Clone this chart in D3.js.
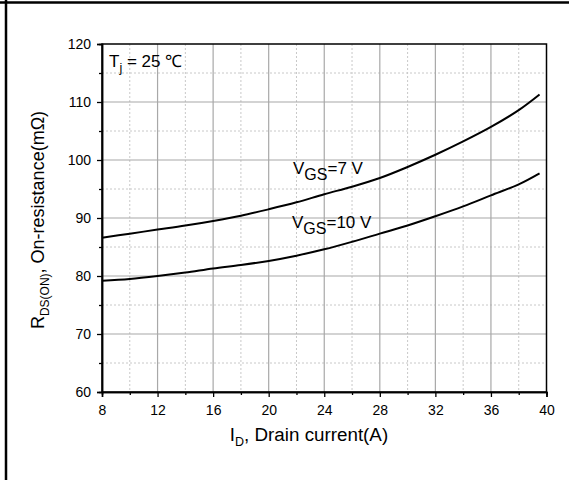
<!DOCTYPE html>
<html>
<head>
<meta charset="utf-8">
<script src="https://cdn.jsdelivr.net/npm/d3@7"></script>
<style>
	body { margin: 0; background: #fff; }
	svg { display: block; font-family: "Liberation Sans", Arial, sans-serif; }
</style>
</head>
<body>
<svg id="chart" width="569" height="480"></svg>
<script>
// drain current (A)
var current = [8, 10, 12, 14, 16, 18, 20, 22, 24, 26, 28, 30, 32, 34, 36, 38, 39.5];
// on-resistance (mOhm) per gate voltage
var rds7V  = [86.6, 87.3, 88.0, 88.7, 89.5, 90.4, 91.5, 92.7, 94.1, 95.4, 96.9, 98.8, 100.9, 103.2, 105.7, 108.6, 111.3];
var rds10V = [79.2, 79.5, 80.0, 80.6, 81.3, 81.9, 82.6, 83.5, 84.6, 85.9, 87.3, 88.7, 90.3, 92.0, 93.9, 95.8, 97.7];
var xTicks = [8, 12, 16, 20, 24, 28, 32, 36, 40];
var yTicks = [60, 70, 80, 90, 100, 110, 120];

var svg = d3.select("#chart");
var L = 102, R = 546.5, T = 44, B = 392;

var x = d3.scaleLinear().domain([8, 40]).range([L, R]);
var y = d3.scaleLinear().domain([60, 120]).range([B, T]);

// outer frame (top and left edges only)
svg.append("line").attr("x1", 0).attr("x2", 569).attr("y1", 2.5).attr("y2", 2.5)
	.attr("stroke", "#000").attr("stroke-width", 2.5);
svg.append("line").attr("x1", 6).attr("x2", 6).attr("y1", 0).attr("y2", 480)
	.attr("stroke", "#000").attr("stroke-width", 2.5);

// minor grid
var g = svg.append("g");
g.selectAll(".vminor").data(d3.range(10, 40, 4)).enter().append("line")
	.attr("x1", function(d) { return x(d); }).attr("x2", function(d) { return x(d); })
	.attr("y1", T).attr("y2", B)
	.attr("stroke", "#c8c8c8").attr("stroke-dasharray", "2,2");
g.selectAll(".hminor").data(d3.range(65, 120, 10)).enter().append("line")
	.attr("x1", L).attr("x2", R)
	.attr("y1", function(d) { return y(d); }).attr("y2", function(d) { return y(d); })
	.attr("stroke", "#c8c8c8").attr("stroke-dasharray", "2,2");
// major grid
g.selectAll(".vmajor").data(xTicks.slice(1, -1)).enter().append("line")
	.attr("x1", function(d) { return x(d); }).attr("x2", function(d) { return x(d); })
	.attr("y1", T).attr("y2", B)
	.attr("stroke", "#a8a8a8").attr("stroke-width", 1.2);
g.selectAll(".hmajor").data(yTicks.slice(1, -1)).enter().append("line")
	.attr("x1", L).attr("x2", R)
	.attr("y1", function(d) { return y(d); }).attr("y2", function(d) { return y(d); })
	.attr("stroke", "#a8a8a8").attr("stroke-width", 1.2);

// plot box
svg.append("rect").attr("x", L).attr("y", T).attr("width", R - L).attr("height", B - T)
	.attr("fill", "none").attr("stroke", "#000").attr("stroke-width", 1.5);

// axes
var xAxis = svg.append("g").attr("transform", "translate(0," + B + ")")
	.call(d3.axisBottom(x).tickValues(xTicks).tickSize(5).tickPadding(8).tickFormat(d3.format("d")));
var xMinor = svg.append("g").attr("transform", "translate(0," + B + ")")
	.call(d3.axisBottom(x).tickValues(d3.range(10, 40, 4)).tickSize(3).tickFormat(""));
var yAxis = svg.append("g").attr("transform", "translate(" + L + ",0)")
	.call(d3.axisLeft(y).tickValues(yTicks).tickSize(5).tickPadding(6).tickFormat(d3.format("d")));
var yMinor = svg.append("g").attr("transform", "translate(" + L + ",0)")
	.call(d3.axisLeft(y).tickValues(d3.range(65, 120, 10)).tickSize(3).tickFormat(""));

[xAxis, xMinor, yAxis, yMinor].forEach(function(a) {
	a.attr("font-size", 14).attr("font-family", "'Liberation Sans', Arial, sans-serif");
	a.select(".domain").attr("stroke-width", 1.5);
	a.selectAll(".tick line").attr("stroke-width", 1.3);
	a.selectAll("text").attr("fill", "#000");
});

// curves
var line = d3.line()
	.x(function(d) { return x(d[0]); })
	.y(function(d) { return y(d[1]); })
	.curve(d3.curveCatmullRom);

[rds7V, rds10V].forEach(function(s) {
	svg.append("path")
		.datum(current.map(function(c, i) { return [c, s[i]]; }))
		.attr("d", line)
		.attr("fill", "none")
		.attr("stroke", "#000")
		.attr("stroke-width", 2);
});

// annotations
function label(px, py, main, sub, rest, size, subSize, shift) {
	var t = svg.append("text").attr("x", px).attr("y", py)
		.attr("font-size", size).attr("fill", "#000");
	t.append("tspan").text(main);
	t.append("tspan").attr("dy", shift).attr("font-size", subSize).text(sub);
	t.append("tspan").attr("dy", -shift).text(rest);
	return t;
}
label(109, 67, "T", "j", " = 25 ℃", 17, 12.5, 5);
label(293, 173.5, "V", "GS", "=7 V", 17, 16, 6.5);
label(292, 227.5, "V", "GS", "=10 V", 17, 16, 6.5);

// axis titles
var xt = svg.append("text").attr("x", 309).attr("y", 441).attr("text-anchor", "middle")
	.attr("font-size", 18.8).attr("fill", "#000");
xt.append("tspan").text("I");
xt.append("tspan").attr("dy", 5).attr("font-size", 12.5).text("D");
xt.append("tspan").attr("dy", -5).text(", Drain current(A)");

var yt = svg.append("text").attr("transform", "translate(44," + ((T + B) / 2 + 2) + ") rotate(-90)")
	.attr("text-anchor", "middle").attr("font-size", 18).attr("fill", "#000");
yt.append("tspan").text("R");
yt.append("tspan").attr("dy", 5).attr("font-size", 12).text("DS(ON)");
yt.append("tspan").attr("dy", -5).text(", On-resistance(mΩ)");
</script>
</body>
</html>
